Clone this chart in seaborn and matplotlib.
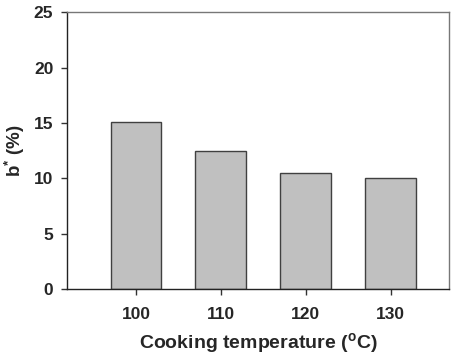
import matplotlib
matplotlib.use('Agg')
import matplotlib.pyplot as plt
import seaborn as sns
import pandas as pd

temperatures = ['100', '110', '120', '130']
b_star = [15.1, 12.5, 10.5, 10.0]

df = pd.DataFrame({'Temperature': temperatures, 'b_star': b_star})

sns.set_style('ticks')
plt.rcParams['font.family'] = ['Liberation Sans', 'DejaVu Sans']
plt.rcParams['font.weight'] = 'bold'
plt.rcParams['mathtext.default'] = 'regular'

fig, ax = plt.subplots(figsize=(4.54, 3.57), dpi=100)
fig.subplots_adjust(left=0.148, right=0.988, top=0.966, bottom=0.19)

sns.barplot(data=df, x='Temperature', y='b_star', color='#c0c0c0',
            edgecolor='#404040', linewidth=1.0, width=0.6, saturation=1, ax=ax)

ax.set_xlim(-0.81, 3.68)
ax.set_ylim(0, 25)
ax.set_yticks([0, 5, 10, 15, 20, 25])
ax.tick_params(axis='both', labelsize=12.5, length=4, width=1, color='#333333')
for lab in ax.get_xticklabels() + ax.get_yticklabels():
    lab.set_fontweight('bold')
ax.tick_params(axis='x', pad=9)
ax.tick_params(axis='y', pad=6)

ax.set_xlabel('Cooking temperature ($^{o}$C)', fontsize=14, fontweight='bold', labelpad=6)
ax.set_ylabel('b$^{*}$ (%)', fontsize=13.5, fontweight='bold', labelpad=5)

for side in ['left', 'bottom']:
    ax.spines[side].set_color('#222222')
    ax.spines[side].set_linewidth(1)
for side in ['top', 'right']:
    ax.spines[side].set_visible(True)
    ax.spines[side].set_color('#777777')
    ax.spines[side].set_linewidth(1)

plt.savefig('out.png', dpi=100)
plt.close()
